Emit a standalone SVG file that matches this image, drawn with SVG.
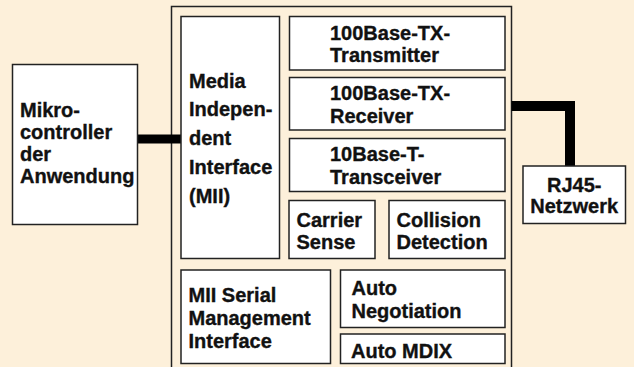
<svg xmlns="http://www.w3.org/2000/svg" width="634" height="367" viewBox="0 0 634 367">
  <style>
    .bg { fill: #fdf0da; }
    .box { fill: #ffffff; stroke: #222222; stroke-width: 1.5; }
    .outer { fill: #fdf0da; stroke: #222222; stroke-width: 1.5; }
    .t { font-family: "Liberation Sans", Arial, sans-serif; font-weight: bold; font-size: 20px; fill: #111111; stroke: #111111; stroke-width: 0.35; }
    .c { text-anchor: middle; }
    .wire { fill: none; stroke: #000000; stroke-linejoin: miter; stroke-linecap: butt; }
  </style>
  <rect class="bg" x="0" y="0" width="634" height="367"/>

  <g id="chip">
    <rect class="outer" x="171.5" y="6.5" width="340" height="372"/>
  </g>

  <g id="connectors">
    <line class="wire" x1="137" y1="139" x2="181" y2="139" stroke-width="9"/>
    <polyline class="wire" points="511.5,106 570,106 570,166" stroke-width="10"/>
  </g>

  <g id="mcu">
    <rect class="box" x="12.5" y="64.5" width="125" height="160"/>
    <text class="t" x="20" y="116.5">Mikro-</text>
    <text class="t" x="20" y="138.5">controller</text>
    <text class="t" x="20" y="160.5">der</text>
    <text class="t" x="20" y="182.5">Anwendung</text>
  </g>

  <g id="mii">
    <rect class="box" x="181" y="16.5" width="98.5" height="242"/>
    <text class="t" x="189" y="88">Media</text>
    <text class="t" x="189" y="116">Indepen-</text>
    <text class="t" x="189" y="145">dent</text>
    <text class="t" x="189" y="174">Interface</text>
    <text class="t" x="189" y="203">(MII)</text>
  </g>

  <g id="tx">
    <rect class="box" x="289.5" y="16.5" width="215.5" height="53.5"/>
    <text class="t" x="330" y="39.5">100Base-TX-</text>
    <text class="t" x="330" y="62">Transmitter</text>
  </g>

  <g id="rx">
    <rect class="box" x="289.5" y="77.5" width="215.5" height="52.5"/>
    <text class="t" x="330" y="100">100Base-TX-</text>
    <text class="t" x="330" y="122.5">Receiver</text>
  </g>

  <g id="trx">
    <rect class="box" x="289.5" y="138.5" width="215.5" height="53"/>
    <text class="t" x="330" y="161">10Base-T-</text>
    <text class="t" x="330" y="183.5">Transceiver</text>
  </g>

  <g id="carrier">
    <rect class="box" x="289" y="200.5" width="86" height="58"/>
    <text class="t" x="296.5" y="226.5">Carrier</text>
    <text class="t" x="296.5" y="248.5">Sense</text>
  </g>

  <g id="collision">
    <rect class="box" x="389" y="200.5" width="116" height="58"/>
    <text class="t" x="396.5" y="226.5">Collision</text>
    <text class="t" x="396.5" y="248.5">Detection</text>
  </g>

  <g id="serial">
    <rect class="box" x="181" y="270" width="149.5" height="93.5"/>
    <text class="t" x="188.5" y="302">MII Serial</text>
    <text class="t" x="188.5" y="325">Management</text>
    <text class="t" x="188.5" y="348">Interface</text>
  </g>

  <g id="autoneg">
    <rect class="box" x="340.5" y="270" width="164.5" height="57.5"/>
    <text class="t" x="351.5" y="295">Auto</text>
    <text class="t" x="351.5" y="318">Negotiation</text>
  </g>

  <g id="mdix">
    <rect class="box" x="340.5" y="334" width="164.5" height="29.5"/>
    <text class="t" x="351" y="357.5">Auto MDIX</text>
  </g>

  <g id="rj45">
    <rect class="box" x="523" y="166" width="102.5" height="57.5"/>
    <text class="t c" x="574.2" y="191.5">RJ45-</text>
    <text class="t c" x="574.2" y="212.5">Netzwerk</text>
  </g>
</svg>
